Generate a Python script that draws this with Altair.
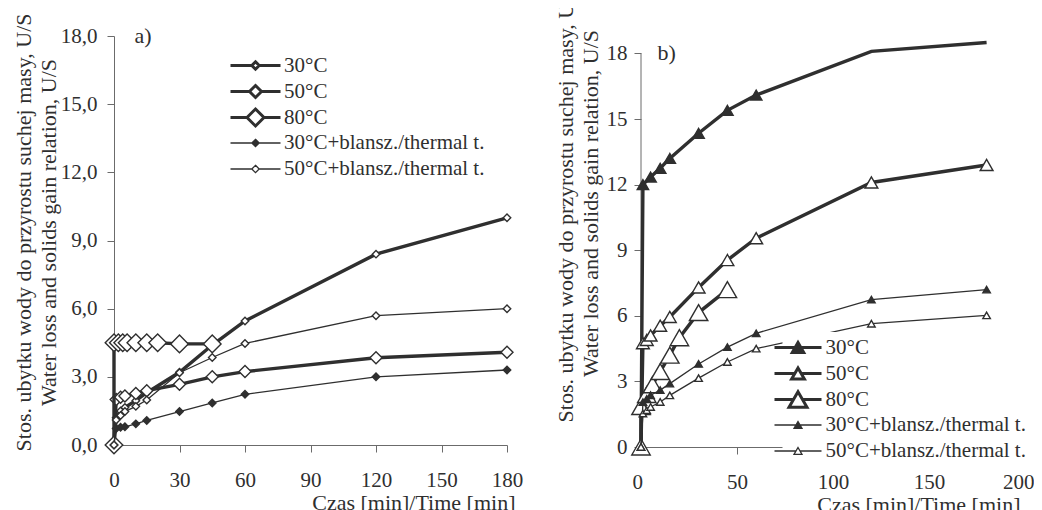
import altair as alt
import pandas as pd

FONT = "Liberation Serif"
INK = "#2f2f2f"
AXIS_GREY = "#6b6b6b"

SERIES = ["30°C", "50°C", "80°C", "30°C+blansz./thermal t.", "50°C+blansz./thermal t."]

# ---------------- panel a) ----------------
A_TIME = [0, 1, 3, 5, 10, 15, 30, 45, 60, 120, 180]
A_30 = [0, 1.2, 1.5, 1.65, 1.95, 2.3, 3.2, 4.4, 5.46, 8.4, 10.0]
A_50 = [0, 2.0, 2.1, 2.16, 2.27, 2.39, 2.67, 3.0, 3.23, 3.84, 4.08]
A_TIME_80 = [0, 0, 2, 4, 6, 10, 15, 20, 30, 45]
A_80 = [0, 4.5, 4.5, 4.5, 4.5, 4.5, 4.5, 4.5, 4.45, 4.45]
A_30_BL = [0, 0.73, 0.78, 0.8, 0.93, 1.08, 1.47, 1.85, 2.23, 3.0, 3.3]
A_50_BL = [0, 1.1, 1.3, 1.47, 1.7, 1.98, 3.18, 3.85, 4.47, 5.69, 6.0]

# ---------------- panel b) ----------------
B_TIME_30 = [0, 1, 5, 10, 15, 30, 45, 60, 120, 180]
B_30 = [0, 12.0, 12.35, 12.75, 13.2, 14.35, 15.4, 16.1, 18.1, 18.5]
B_TIME = [0, 1, 3, 5, 10, 15, 30, 45, 60, 120, 180]
B_50 = [0, 4.75, 4.9, 5.1, 5.55, 5.95, 7.3, 8.55, 9.55, 12.1, 12.9]
B_TIME_80 = [0, 0, 3, 6, 10, 15, 20, 30, 45]
B_80 = [0, 1.85, 2.4, 2.85, 3.45, 4.2, 5.0, 6.15, 7.2]
B_30_BL = [0, 2.05, 2.2, 2.37, 2.6, 2.9, 3.8, 4.57, 5.2, 6.74, 7.2]
B_50_BL = [0, 1.53, 1.68, 1.83, 2.06, 2.36, 3.15, 3.89, 4.5, 5.64, 6.02]

A_X_TICKS = [0, 30, 60, 90, 120, 150, 180]
B_X_TICKS = [0, 50, 100, 150, 200]
Y_TICKS = [0, 3, 6, 9, 12, 15, 18]
Y_AXIS_MAX = 18
PANEL_LABELS = ["a)", "b)"]
X_TITLE = "Czas [min]/Time [min]"
Y_TITLE = ["Stos. ubytku wody do przyrostu suchej masy, U/S",
           "Water loss and solids gain relation, U/S"]


def frame(times_list, values_list):
    rows = []
    for name, ts, vs in zip(SERIES, times_list, values_list):
        for i, (t, v) in enumerate(zip(ts, vs)):
            rows.append({"series": name, "t": t, "v": v, "i": i})
    return pd.DataFrame(rows)


df_a = frame([A_TIME, A_TIME, A_TIME_80, A_TIME, A_TIME],
             [A_30, A_50, A_80, A_30_BL, A_50_BL])
df_b = frame([B_TIME_30, B_TIME, B_TIME_80, B_TIME, B_TIME],
             [B_30, B_50, B_80, B_30_BL, B_50_BL])

THICK, THIN = 3.4, 1.3
STYLE_A = {
    "30°C": dict(lw=THICK, shape="diamond", size=56, fill="white"),
    "50°C": dict(lw=THICK, shape="diamond", size=144, fill="white"),
    "80°C": dict(lw=THICK, shape="diamond", size=310, fill="white"),
    "30°C+blansz./thermal t.": dict(lw=THIN, shape="diamond", size=56, fill=INK),
    "50°C+blansz./thermal t.": dict(lw=THIN, shape="diamond", size=56, fill="white"),
}
STYLE_B = {
    "30°C": dict(lw=THICK, shape="triangle-up", size=130, fill=INK),
    "50°C": dict(lw=THICK, shape="triangle-up", size=165, fill="white"),
    "80°C": dict(lw=THICK, shape="triangle-up", size=340, fill="white"),
    "30°C+blansz./thermal t.": dict(lw=THIN, shape="triangle-up", size=56, fill=INK),
    "50°C+blansz./thermal t.": dict(lw=THIN, shape="triangle-up", size=56, fill="white"),
}
LEGEND_LINE_WIDTHS = [3.0, 3.0, 3.0, 1.3, 1.3]


# legend symbols: a short line with the marker in the middle (path units)
def diamond_path(d, half_len):
    return f"M{-half_len},0H{-d}M0,{-d}L{d},0L0,{d}L{-d},0ZM{d},0H{half_len}"


def triangle_path(r, half_len):
    h = round(0.866 * r, 3)
    return f"M{-half_len},0H{-r / 2}M0,{-h}L{r},{h}L{-r},{h}ZM{r / 2},0H{half_len}"


LEG_A_PATHS = [diamond_path(0.37, 2.5), diamond_path(0.6, 2.5), diamond_path(0.85, 2.5),
               diamond_path(0.37, 2.5), diamond_path(0.37, 2.5)]
LEG_B_PATHS = [triangle_path(0.57, 2.35), triangle_path(0.64, 2.35), triangle_path(0.9, 2.35),
               triangle_path(0.4, 2.35), triangle_path(0.4, 2.35)]


def panel(df, style, leg_paths, xdom, xticks, ydom, label_expr, width, height,
          label, ylab_pad, ytitle_x, ytitle_y, xtitle_x, legend_xy, label_offset,
          draw_axis_rule):
    x_axis = alt.Axis(values=xticks, title=X_TITLE, grid=False, tickSize=7, labelPadding=17,
                      labelFlush=draw_axis_rule, labelFlushOffset=9, labelOverlap=False,
                      domainColor=AXIS_GREY, tickColor=AXIS_GREY,
                      labelFont=FONT, labelFontSize=21, labelColor=INK,
                      titleFont=FONT, titleFontSize=22, titleColor=INK, titleFontWeight="normal",
                      titleX=xtitle_x, titleY=57, titleAlign="right", titleBaseline="middle")
    y_axis = alt.Axis(values=Y_TICKS, labelExpr=label_expr, title=Y_TITLE, grid=False,
                      tickSize=7, labelPadding=ylab_pad, domain=not draw_axis_rule,
                      domainColor=AXIS_GREY, tickColor=AXIS_GREY,
                      labelFont=FONT, labelFontSize=21, labelColor=INK,
                      titleFont=FONT, titleFontSize=22, titleColor=INK, titleFontWeight="normal",
                      titleX=ytitle_x, titleY=ytitle_y, titleAngle=270, titleAlign="center",
                      titleBaseline="middle", titleLineHeight=25)
    X = alt.X("t:Q", scale=alt.Scale(domain=xdom, nice=False, zero=False), axis=x_axis)
    Y = alt.Y("v:Q", scale=alt.Scale(domain=ydom, nice=False, zero=False), axis=y_axis)

    layers = []
    if draw_axis_rule:
        rule_df = pd.DataFrame({"t": [xdom[0]], "v": [0], "v2": [Y_AXIS_MAX]})
        layers.append(alt.Chart(rule_df).mark_rule(color=AXIS_GREY, strokeWidth=1).encode(
            x=X, y=Y, y2="v2:Q"))
    for name in SERIES:
        st = style[name]
        sub = df[df["series"] == name]
        base = alt.Chart(sub)
        layers.append(base.mark_line(color=INK, strokeWidth=st["lw"]).encode(
            x=X, y=Y, order="i:Q"))
        layers.append(base.transform_filter(alt.datum.v <= Y_AXIS_MAX).mark_point(
            shape=st["shape"], size=st["size"], filled=True, fill=st["fill"],
            stroke=INK, strokeWidth=1.4, opacity=1).encode(x=X, y=Y))

    leg = alt.Legend(title=None, orient="none", legendX=legend_xy[0], legendY=legend_xy[1],
                     symbolSize=400, labelFont=FONT, labelFontSize=21, labelColor=INK,
                     labelOffset=label_offset, labelLimit=400, rowPadding=-20,
                     gridAlign="all", padding=4, fillColor="white", symbolOpacity=1)
    proxy = alt.Chart(df).transform_filter("false").mark_point(filled=False).encode(
        x=X, y=Y,
        shape=alt.Shape("series:N", scale=alt.Scale(domain=SERIES, range=leg_paths), legend=leg),
        fill=alt.Fill("series:N", scale=alt.Scale(domain=SERIES,
                                                   range=[style[s]["fill"] for s in SERIES]),
                      legend=leg),
        stroke=alt.Stroke("series:N", scale=alt.Scale(domain=SERIES, range=[INK] * len(SERIES)),
                          legend=leg),
        strokeWidth=alt.StrokeWidth("series:N", scale=alt.Scale(
            type="ordinal", domain=SERIES, range=LEGEND_LINE_WIDTHS), legend=leg),
    )
    layers.append(proxy)

    lab_df = pd.DataFrame({"t": [13.3], "v": [Y_AXIS_MAX], "label": [label]})
    layers.append(alt.Chart(lab_df).mark_text(font=FONT, fontSize=22, color=INK,
                                               align="center", baseline="middle").encode(
        x=X, y=Y, text="label:N"))

    return alt.layer(*layers).properties(width=width, height=height)


chart_a = panel(df_a, STYLE_A, LEG_A_PATHS, [0, 180], A_X_TICKS, [0, 18],
                "replace(format(datum.value, '.1f'), '.', ',')", 393, 409,
                PANEL_LABELS[0], 10, -91, 196, 401, (126, 14), 17, False)
chart_b = panel(df_b, STYLE_B, LEG_B_PATHS, [0, 200], B_X_TICKS, [0, 18.8],
                "format(datum.value, 'd')", 384, 411,
                PANEL_LABELS[1], 7, -76, 167, 379, (141.5, 296), 16, True)

chart = alt.hconcat(chart_a, chart_b, spacing=134, bounds="flush").resolve_scale(
    x="independent", y="independent", shape="independent", fill="independent",
    stroke="independent", strokeWidth="independent").resolve_legend(
    shape="independent", fill="independent", stroke="independent",
    strokeWidth="independent").configure_view(
    stroke=None).properties(
    autosize=alt.AutoSizeParams(type="none"),
    padding={"left": 106, "top": 28, "right": 920, "bottom": 476},
    background="white")

chart.save("out.html", embed_options={"renderer": "svg", "actions": False})
